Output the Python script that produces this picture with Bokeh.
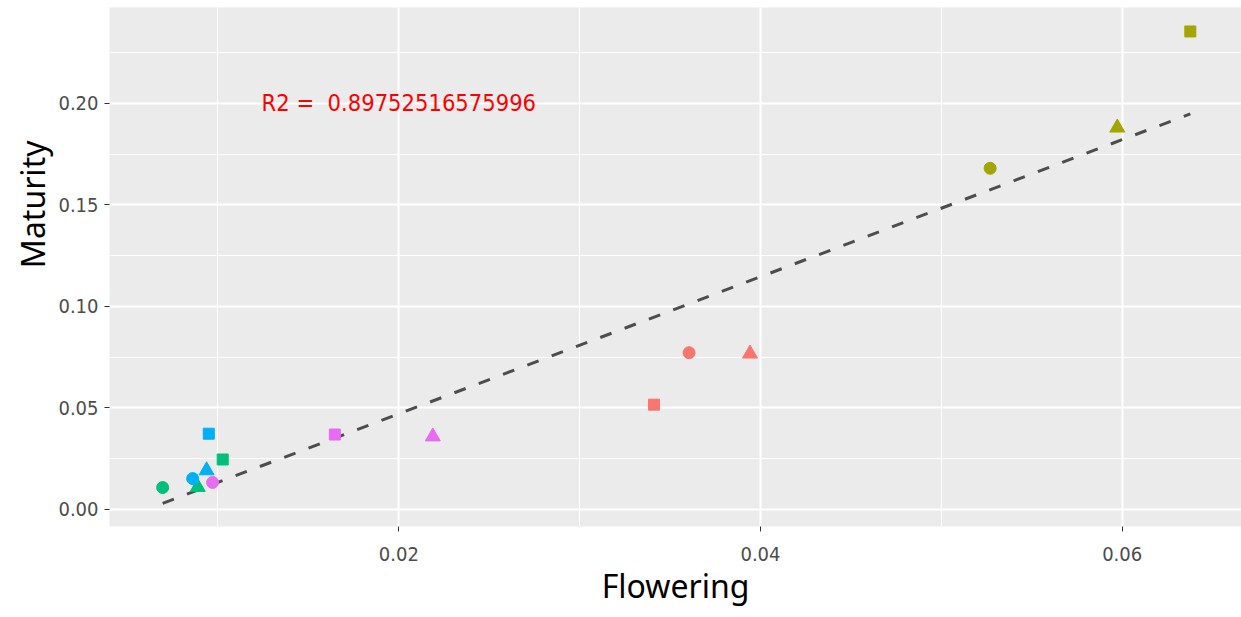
import numpy as np
from bokeh.plotting import figure
from bokeh.models import Range1d, SingleIntervalTicker, NumeralTickFormatter, Label, ColumnDataSource, Title
from bokeh.embed import file_html
from bokeh.resources import INLINE

# ---- data ----
flowering = [0.00694, 0.00888, 0.01026, 0.00949, 0.00860, 0.00937, 0.00970, 0.01646,
             0.02188, 0.03411, 0.03605, 0.03942, 0.05270, 0.05973, 0.06377]
maturity = [0.0108, 0.0110, 0.0246, 0.0373, 0.0152, 0.0192, 0.0133, 0.0369,
            0.0359, 0.0516, 0.0772, 0.0767, 0.1680, 0.1880, 0.2354]
group = ["g3", "g3", "g3", "g4", "g4", "g4", "g5", "g5",
         "g5", "g1", "g1", "g1", "g2", "g2", "g2"]
shape = ["circle", "triangle", "square", "square", "circle", "triangle", "circle", "square",
         "triangle", "square", "circle", "triangle", "circle", "triangle", "square"]
r2_text = "R2 =\u00a0 0.89752516575996"

palette = {"g1": "#F8766D", "g2": "#A3A500", "g3": "#00BF7D", "g4": "#00B0F6", "g5": "#E76BF3"}
sizes = {"circle": 12, "triangle": 15, "square": 11}
NARROW = "DejaVu Sans Condensed, Liberation Sans, sans-serif"

src = ColumnDataSource(dict(
    x=flowering, y=maturity,
    color=[palette[g] for g in group],
    marker=shape,
    size=[sizes[s] for s in shape],
))

p = figure(width=1241, height=609, output_backend="svg", toolbar_location=None,
           x_range=Range1d(0.0040, 0.0666), y_range=Range1d(-0.0084, 0.2472),
           min_border_left=109, min_border_right=0, min_border_top=7, min_border_bottom=82)

p.background_fill_color = "#EBEBEB"
p.border_fill_color = "white"
p.outline_line_color = None

p.xaxis.ticker = SingleIntervalTicker(interval=0.02, num_minor_ticks=2)
p.yaxis.ticker = SingleIntervalTicker(interval=0.05, num_minor_ticks=2)
p.xaxis.formatter = NumeralTickFormatter(format="0.00")
p.yaxis.formatter = NumeralTickFormatter(format="0.00")

for ax in (p.xaxis, p.yaxis):
    ax.axis_line_color = None
    ax.major_tick_line_color = "#333333"
    ax.major_tick_in = 0
    ax.major_tick_out = 5
    ax.minor_tick_line_color = None
    ax.major_label_text_font = NARROW
    ax.major_label_text_font_size = "20px"
    ax.major_label_text_color = "#4D4D4D"
p.xaxis.major_label_standoff = 15
p.yaxis.major_label_standoff = 6

p.xgrid.grid_line_color = "white"
p.ygrid.grid_line_color = "white"
p.xgrid.grid_line_width = 2
p.ygrid.grid_line_width = 2
p.xgrid.minor_grid_line_color = "white"
p.ygrid.minor_grid_line_color = "white"
p.xgrid.minor_grid_line_width = 1
p.ygrid.minor_grid_line_width = 1

p.xaxis.axis_label = "Flowering"
p.xaxis.axis_label_text_font = "Noto Sans"
p.xaxis.axis_label_text_font_size = "32px"
p.xaxis.axis_label_text_font_style = "normal"
p.xaxis.axis_label_text_color = "black"
p.xaxis.axis_label_standoff = 0

# regression line (least squares)
xs = np.array(flowering)
ys = np.array(maturity)
slope, intercept = np.polyfit(xs, ys, 1)
lx = np.array([xs.min(), xs.max()])
p.line(lx, slope * lx + intercept, line_color="#4D4D4D", line_width=3, line_dash="12 14")

p.scatter("x", "y", source=src, marker="marker", size="size", fill_color="color",
          line_color="color", line_width=1)

p.add_layout(Label(x=0.02, y=0.20, text=r2_text, text_color="#FF0000",
                   text_font=NARROW, text_font_size="23.5px",
                   text_align="center", text_baseline="middle"))

p.add_layout(Title(text="Maturity", align="right", offset=133, standoff=4,
                   text_color="black", text_font="Noto Sans", text_font_size="32px",
                   text_font_style="normal"), "left")

open("out.html", "w").write(file_html(p, INLINE))
